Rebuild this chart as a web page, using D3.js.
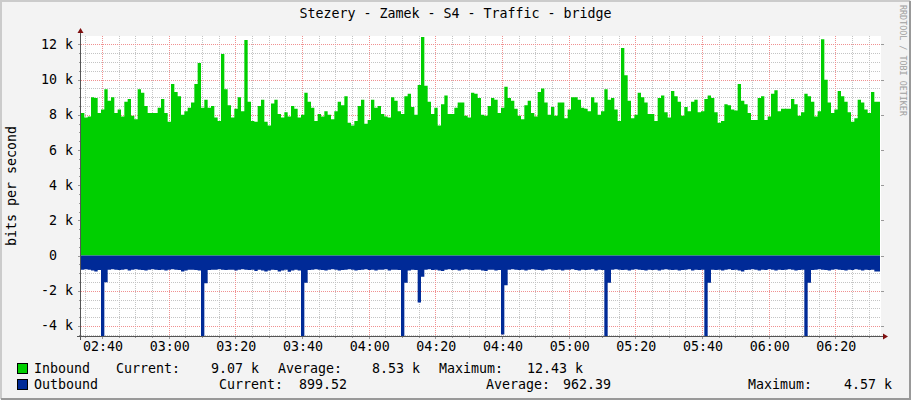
<!DOCTYPE html>
<html>
<head>
<meta charset="utf-8">
<script src="https://cdn.jsdelivr.net/npm/d3@7.9.0/dist/d3.min.js"></script>
<style>
  html, body { margin: 0; padding: 0; background: #f3f3f3; }
  svg { display: block; }
  text { font-family: "DejaVu Sans Mono", monospace; }
</style>
</head>
<body>
<svg id="chart" width="911" height="400"></svg>
<script>
// one sample per minute, first sample at 02:33:42 (minutes after midnight)
const startMin = 153.7;
const spanMin = 240;

// inbound, kbit/s
const inbound = [
  8.1, 7.85, 7.9, 9.0, 8.95, 8.1, 8.3, 9.45, 8.8, 9.0,
  8.1, 8.3, 7.9, 8.75, 8.9, 7.95, 7.75, 9.45, 9.25, 8.5,
  8.1, 8.1, 8.1, 8.4, 8.9, 8.1, 7.6, 9.75, 9.3, 9.05,
  8.0, 8.2, 8.4, 8.7, 9.75, 10.95, 8.4, 8.85, 8.4, 8.5,
  7.85, 7.65, 11.45, 9.45, 8.55, 7.85, 8.35, 9.0, 8.2, 12.25,
  8.75, 7.65, 7.6, 8.5, 8.85, 7.6, 7.4, 8.65, 8.85, 8.05,
  7.85, 8.15, 7.9, 8.5, 8.35, 7.85, 8.0, 9.25, 8.75, 8.4,
  7.65, 8.05, 7.9, 8.2, 8.0, 7.75, 8.2, 8.75, 8.55, 9.05,
  7.55, 7.4, 7.65, 8.5, 8.85, 7.5, 7.7, 8.85, 8.4, 8.5,
  8.05, 7.9, 7.85, 9.0, 8.8, 8.2, 8.05, 9.05, 9.2, 8.45,
  8.0, 9.7, 12.43, 9.65, 8.75, 8.05, 8.4, 7.4, 8.6, 9.1,
  8.05, 8.05, 8.4, 8.7, 8.7, 7.95, 7.85, 9.25, 9.2, 8.95,
  8.0, 7.95, 8.5, 8.95, 8.85, 8.1, 8.4, 9.6, 8.95, 8.8,
  8.35, 7.95, 7.75, 8.55, 8.8, 8.1, 7.9, 9.3, 9.5, 8.7,
  8.0, 8.45, 7.95, 8.7, 8.7, 7.8, 8.3, 9.0, 9.0, 8.85,
  8.4, 8.35, 8.2, 9.0, 8.7, 8.0, 8.2, 9.45, 8.85, 8.95,
  8.3, 7.65, 11.8, 10.25, 8.8, 7.8, 8.0, 9.25, 9.0, 8.7,
  8.05, 8.05, 7.65, 8.95, 9.1, 8.15, 7.85, 9.35, 9.05, 8.75,
  7.95, 8.45, 8.2, 8.75, 8.85, 8.15, 8.2, 8.9, 9.1, 8.95,
  8.15, 7.55, 7.65, 8.6, 8.55, 8.3, 8.25, 9.75, 8.8, 8.6,
  8.1, 7.7, 7.7, 8.95, 9.05, 7.7, 7.9, 9.2, 9.4, 8.2,
  8.35, 8.35, 8.35, 8.9, 8.6, 7.95, 8.15, 9.2, 9.05, 8.75,
  7.9, 8.2, 12.3, 10.0, 8.7, 8.1, 8.3, 9.35, 9.05, 8.75,
  8.15, 7.6, 7.8, 8.85, 8.7, 8.3, 8.1, 9.3, 8.75
];

// outbound, kbit/s (drawn below zero)
const outbound = [
  -0.8, -0.78, -0.8, -0.85, -0.9, -0.82, -4.57, -1.52, -0.8, -0.78,
  -0.8, -0.82, -0.8, -0.78, -0.85, -0.8, -0.78, -0.8, -0.82, -0.85,
  -0.8, -0.78, -0.8, -0.82, -0.8, -0.85, -0.8, -0.78, -0.8, -0.82,
  -0.9, -0.85, -0.8, -0.8, -0.82, -0.85, -4.57, -1.57, -0.82, -0.8,
  -0.8, -0.78, -0.8, -0.82, -0.8, -0.8, -0.85, -0.8, -0.78, -0.8,
  -0.82, -0.8, -0.88, -0.8, -0.85, -0.9, -0.85, -0.8, -0.82, -0.9,
  -0.85, -0.8, -0.92, -0.85, -0.8, -0.85, -4.57, -1.55, -0.82, -0.8,
  -0.78, -0.8, -0.82, -0.85, -0.8, -0.78, -0.8, -0.85, -0.82, -0.8,
  -0.78, -0.8, -0.85, -0.82, -0.8, -0.78, -0.82, -0.8, -0.85, -0.8,
  -0.8, -0.78, -0.85, -0.8, -0.8, -0.82, -4.57, -1.55, -0.85, -0.8,
  -0.82, -2.67, -1.2, -0.8, -0.78, -0.82, -0.8, -0.85, -0.88, -0.8,
  -0.78, -0.82, -0.8, -0.85, -0.8, -0.78, -0.8, -0.82, -0.8, -0.8,
  -0.85, -0.88, -0.8, -0.8, -0.85, -0.82, -4.49, -1.68, -0.8, -0.78,
  -0.8, -0.82, -0.8, -0.85, -0.8, -0.78, -0.8, -0.82, -0.85, -0.8,
  -0.78, -0.8, -0.82, -0.8, -0.85, -0.8, -0.8, -0.78, -0.82, -0.85,
  -0.8, -0.82, -0.8, -0.78, -0.85, -0.8, -0.82, -4.57, -1.55, -0.8,
  -0.78, -0.8, -0.82, -0.8, -0.85, -0.8, -0.78, -0.8, -0.82, -0.85,
  -0.8, -0.82, -0.8, -0.85, -0.8, -0.78, -0.8, -0.82, -0.8, -0.85,
  -0.82, -0.8, -0.78, -0.85, -0.8, -0.82, -0.8, -4.57, -1.55, -0.8,
  -0.82, -0.8, -0.85, -0.8, -0.78, -0.82, -0.8, -0.85, -0.9, -0.82,
  -0.8, -0.78, -0.8, -0.85, -0.8, -0.82, -0.78, -0.8, -0.85, -0.8,
  -0.82, -0.8, -0.78, -0.8, -0.85, -0.82, -0.8, -4.57, -1.55, -0.82,
  -0.8, -0.78, -0.8, -0.82, -0.85, -0.8, -0.78, -0.8, -0.82, -0.85,
  -0.8, -0.82, -0.78, -0.8, -0.85, -0.8, -0.82, -0.8, -0.9
];

const yTicks = [-4, -2, 0, 2, 4, 6, 8, 10, 12];
const yTickLabels = ["-4 k", "-2 k", "0  ", "2 k", "4 k", "6 k", "8 k", "10 k", "12 k"];
const xTicks = [160, 180, 200, 220, 240, 260, 280, 300, 320, 340, 360, 380];
const xTickLabels = ["02:40", "03:00", "03:20", "03:40", "04:00", "04:20",
                     "04:40", "05:00", "05:20", "05:40", "06:00", "06:20"];

const seriesNames = ["Inbound", "Outbound"];
const seriesColors = ["#00cf00", "#002a97"];
const currentText = ["9.07 k", "899.52"];
const averageText = ["8.53 k", "962.39"];
const maximumText = ["12.43 k", "4.57 k"];

const plotLeft = 81, plotRight = 881, plotTop = 36, plotBottom = 336;
const svg = d3.select('#chart');

// frame
svg.append('rect').attr('width', 911).attr('height', 400).attr('fill', '#f3f3f3');
svg.append('path').attr('d', 'M1,399V1H910').attr('fill', 'none')
   .attr('stroke', '#cbcbcb').attr('stroke-width', 2);
svg.append('path').attr('d', 'M1,399H910V1').attr('fill', 'none')
   .attr('stroke', '#999').attr('stroke-width', 2);

svg.append('rect').attr('x', plotLeft).attr('y', plotTop)
   .attr('width', plotRight - plotLeft).attr('height', plotBottom - plotTop).attr('fill', '#fff');

const x = d3.scaleLinear().domain([startMin, startMin + spanMin]).range([plotLeft, plotRight]);
const y = d3.scaleLinear().domain([-4.57, 12.48]).range([plotBottom, plotTop]);

// grid
const grid = svg.append('g').attr('shape-rendering', 'crispEdges');
const minorX = d3.range(Math.ceil(startMin / 5) * 5, startMin + spanMin, 5);
const minorY = d3.range(-4.5, 12.5, 0.5);
const minorStroke = '#c4c4c4', majorStroke = '#f09090';

minorX.filter(t => t % 20 !== 0).forEach(t => {
  const px = Math.round(x(t)) + 0.5;
  grid.append('line').attr('x1', px).attr('x2', px).attr('y1', plotTop).attr('y2', plotBottom)
      .attr('stroke', minorStroke).attr('stroke-dasharray', '1,1');
  grid.append('line').attr('x1', px).attr('x2', px).attr('y1', plotBottom).attr('y2', plotBottom + 2)
      .attr('stroke', '#999');
});
minorY.filter(v => v % 2 !== 0).forEach(v => {
  const py = Math.round(y(v)) + 0.5;
  grid.append('line').attr('x1', plotLeft).attr('x2', plotRight).attr('y1', py).attr('y2', py)
      .attr('stroke', minorStroke).attr('stroke-dasharray', '1,1');
  grid.append('line').attr('x1', plotLeft - 2).attr('x2', plotLeft).attr('y1', py).attr('y2', py)
      .attr('stroke', '#999');
});
xTicks.forEach(t => {
  const px = Math.round(x(t)) + 0.5;
  grid.append('line').attr('x1', px).attr('x2', px).attr('y1', plotTop).attr('y2', plotBottom)
      .attr('stroke', majorStroke).attr('stroke-dasharray', '1,1');
  grid.append('line').attr('x1', px).attr('x2', px).attr('y1', plotBottom).attr('y2', plotBottom + 3)
      .attr('stroke', '#999');
});
yTicks.forEach(v => {
  const py = Math.round(y(v)) + 0.5;
  grid.append('line').attr('x1', plotLeft).attr('x2', plotRight).attr('y1', py).attr('y2', py)
      .attr('stroke', majorStroke).attr('stroke-dasharray', '1,1');
  grid.append('line').attr('x1', plotLeft - 3).attr('x2', plotLeft).attr('y1', py).attr('y2', py)
      .attr('stroke', '#999');
  grid.append('line').attr('x1', plotRight).attr('x2', plotRight + 3).attr('y1', py).attr('y2', py)
      .attr('stroke', '#999');
});

// areas: each sample holds until the next one; the last holds to the right edge
function points(values) {
  const pts = values.map((v, i) => ({ t: startMin + i, v }));
  pts.push({ t: startMin + spanMin - 0.3, v: values[values.length - 1] });
  return pts;
}
const area = d3.area()
  .x(d => x(d.t))
  .y0(y(0))
  .y1(d => y(d.v))
  .curve(d3.curveStepAfter);

svg.append('clipPath').attr('id', 'plotclip')
   .append('rect').attr('x', plotLeft).attr('y', plotTop)
   .attr('width', plotRight - plotLeft).attr('height', plotBottom - plotTop);

const plot = svg.append('g').attr('clip-path', 'url(#plotclip)');
plot.append('path').attr('d', area(points(inbound))).attr('fill', seriesColors[0]);
plot.append('path').attr('d', area(points(outbound))).attr('fill', seriesColors[1]);

// axes
svg.append('line').attr('x1', plotLeft - 4).attr('x2', plotRight + 3)
   .attr('y1', plotBottom + 0.5).attr('y2', plotBottom + 0.5).attr('stroke', '#555');
svg.append('line').attr('x1', plotLeft - 0.5).attr('x2', plotLeft - 0.5)
   .attr('y1', plotBottom + 4).attr('y2', plotTop - 5).attr('stroke', '#555');
svg.append('path')
   .attr('d', `M${plotLeft - 3.5},${plotTop - 3} L${plotLeft - 0.5},${plotTop - 8} L${plotLeft + 2.5},${plotTop - 3}Z`)
   .attr('fill', '#7f1010');
svg.append('path')
   .attr('d', `M${plotRight + 2},${plotBottom - 2.5} L${plotRight + 7},${plotBottom + 0.5} L${plotRight + 2},${plotBottom + 3.5}Z`)
   .attr('fill', '#7f1010');

// tick labels
svg.append('g').selectAll('text').data(yTicks).join('text')
   .attr('x', 73).attr('y', v => y(v) + 4.5)
   .attr('text-anchor', 'end').attr('font-size', '13.3px')
   .style('white-space', 'pre')
   .text((v, i) => yTickLabels[i]);

svg.append('g').selectAll('text').data(xTicks).join('text')
   .attr('x', t => x(t) + 1).attr('y', 351)
   .attr('text-anchor', 'middle').attr('font-size', '13.3px')
   .text((t, i) => xTickLabels[i]);

// titles
svg.append('text').attr('x', 455.5).attr('y', 18).attr('text-anchor', 'middle')
   .attr('font-size', '13.3px').text('Stezery - Zamek - S4 - Traffic - bridge');
svg.append('text').attr('transform', 'translate(16,186) rotate(-90)')
   .attr('text-anchor', 'middle').attr('font-size', '13.3px').text('bits per second');
svg.append('text').attr('transform', 'translate(900,5) rotate(90)')
   .attr('font-size', '8.4px').attr('fill', '#a0a0a0').text('RRDTOOL / TOBI OETIKER');

// legend
const legendRows = [
  { y: 373, cols: [34, 116, 211, 278, 372, 439, 527] },
  { y: 389, cols: [34, 219, 299, 486, 563, 748, 844] }
];
legendRows.forEach((row, i) => {
  svg.append('rect').attr('x', 17.5).attr('y', row.y - 9.5)
     .attr('width', 10).attr('height', 10)
     .attr('fill', seriesColors[i]).attr('stroke', '#000');
  const parts = [seriesNames[i], 'Current:', currentText[i], 'Average:',
                 averageText[i], 'Maximum:', maximumText[i]];
  parts.forEach((s, j) => {
    svg.append('text').attr('x', row.cols[j]).attr('y', row.y)
       .attr('font-size', '13.3px').text(s);
  });
});
</script>
</body>
</html>
